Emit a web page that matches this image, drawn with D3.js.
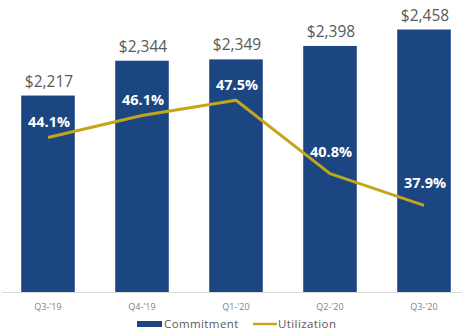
<!DOCTYPE html>
<html>
<head>
<meta charset="utf-8">
<script src="https://cdn.jsdelivr.net/npm/d3@7"></script>
<style>
  html, body { margin: 0; padding: 0; background: #ffffff; }
  svg { display: block; }
</style>
</head>
<body>
<svg id="chart" width="469" height="332"></svg>
<script>
// Quarterly commitment ($) and utilization (%)
const quarters = ["Q3-'19", "Q4-'19", "Q1-'20", "Q2-'20", "Q3-'20"];
const commitment = [2217, 2344, 2349, 2398, 2458];
const utilization = [44.1, 46.1, 47.5, 40.8, 37.9];
const legendNames = ["Commitment", "Utilization"];

const BAR = "#1c4682";
const LINE = "#c4a61c";
const TEXT = "#595959";

const svg = d3.select("#chart");
const plotTop = 18, plotBase = 292;

const x = d3.scaleBand()
  .domain(quarters)
  .range([1, 471])
  .paddingInner(0.43)
  .paddingOuter(0.215);

const y = d3.scaleLinear().domain([1500, 2500]).range([plotBase, plotTop]);
const y2 = d3.scaleLinear().domain([30, 55]).range([plotBase, plotTop]);

// baseline
svg.append("line")
  .attr("x1", 2).attr("x2", 462)
  .attr("y1", plotBase + 0.5).attr("y2", plotBase + 0.5)
  .attr("stroke", "#d9d9d9").attr("stroke-width", 1);

// bars
svg.append("g").selectAll("rect")
  .data(commitment)
  .join("rect")
  .attr("x", (d, i) => x(quarters[i]))
  .attr("y", d => y(d))
  .attr("width", x.bandwidth())
  .attr("height", d => plotBase - y(d))
  .attr("fill", BAR);

// commitment labels
svg.append("g").selectAll("text")
  .data(commitment)
  .join("text")
  .attr("x", (d, i) => x(quarters[i]) + x.bandwidth() / 2 + 1)
  .attr("y", d => y(d) - 9)
  .attr("text-anchor", "middle")
  .attr("font-family", "'Open Sans', sans-serif")
  .attr("font-size", 15.5)
  .attr("fill", TEXT)
  .text(d => "$" + d3.format(",")(d));

// x axis labels
const xAxis = d3.axisBottom(x).tickSize(0).tickPadding(12);
const gx = svg.append("g").attr("transform", `translate(0,${plotBase})`).call(xAxis);
gx.select(".domain").remove();
gx.selectAll("text")
  .attr("font-family", "'Open Sans', sans-serif")
  .attr("font-size", 9)
  .attr("fill", "#7f7f7f");

// utilization line
const line = d3.line()
  .x((d, i) => x(quarters[i]) + x.bandwidth() / 2)
  .y(d => y2(d));

svg.append("path")
  .datum(utilization)
  .attr("d", line)
  .attr("fill", "none")
  .attr("stroke", LINE)
  .attr("stroke-width", 3)
  .attr("stroke-linejoin", "round");

// utilization labels: lifted further where the line falls into the point
svg.append("g").selectAll("text")
  .data(utilization)
  .join("text")
  .attr("x", (d, i) => x(quarters[i]) + x.bandwidth() / 2 + 1)
  .attr("y", (d, i) => y2(d) - (i > 0 && d < utilization[i - 1] ? 17 : 10.5))
  .attr("text-anchor", "middle")
  .attr("font-family", "'Open Sans', sans-serif")
  .attr("font-weight", "bold")
  .attr("font-size", 14.5)
  .attr("fill", "#ffffff")
  .text(d => d.toFixed(1) + "%");

// legend
const lg = svg.append("g");
lg.append("rect").attr("x", 137).attr("y", 321).attr("width", 25).attr("height", 6).attr("fill", BAR);
lg.append("text").attr("x", 164).attr("y", 328)
  .attr("font-family", "'Open Sans', sans-serif").attr("font-size", 11.5)
  .attr("letter-spacing", 0.4)
  .attr("fill", TEXT).text(legendNames[0]);
lg.append("line").attr("x1", 253).attr("x2", 277).attr("y1", 324).attr("y2", 324)
  .attr("stroke", LINE).attr("stroke-width", 2.5);
lg.append("text").attr("x", 278).attr("y", 328)
  .attr("font-family", "'Open Sans', sans-serif").attr("font-size", 11.5)
  .attr("letter-spacing", 0.4)
  .attr("fill", TEXT).text(legendNames[1]);
</script>
</body>
</html>
